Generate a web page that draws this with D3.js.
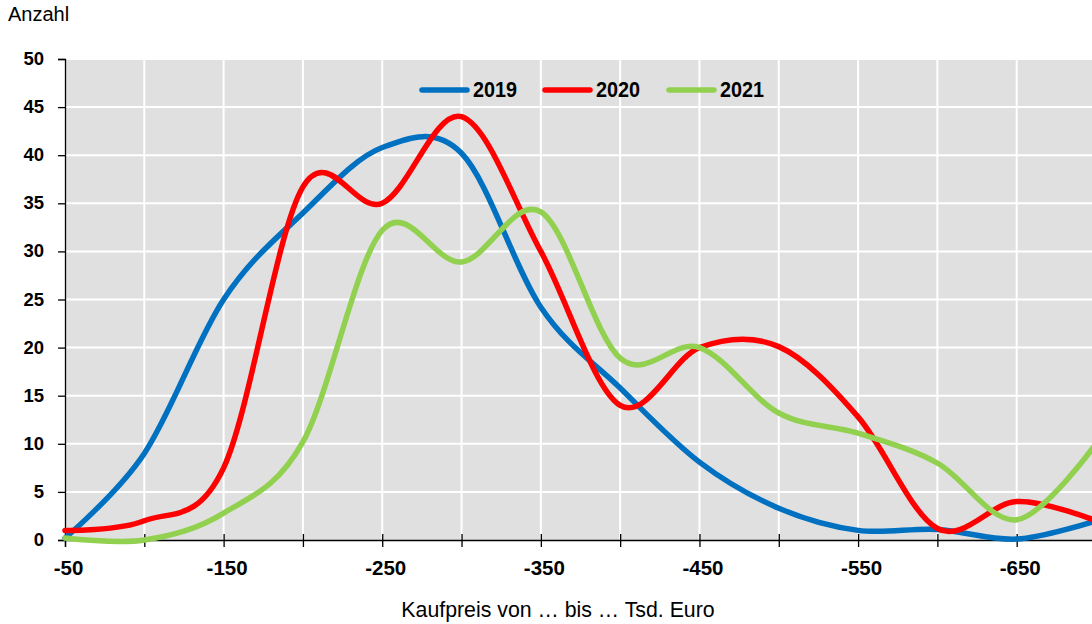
<!DOCTYPE html>
<html><head><meta charset="utf-8">
<script src="https://cdn.jsdelivr.net/npm/d3@7"></script>
<style>html,body{margin:0;padding:0;background:#fff;}svg{display:block;}</style>
</head><body>
<svg id="c" width="1092" height="624"></svg>
<script>
const categories = [-50,-100,-150,-200,-250,-300,-350,-400,-450,-500,-550,-600,-650,-700];
const s2019 = [0.2, 9, 25, 34, 40.8, 40.2, 24.2, 15.8, 8.1, 3.3, 1.0, 1.1, 0.1, 2];
const s2020 = [1, 2, 7.5, 36.7, 35, 44, 30, 14, 20, 20.1, 12.8, 1.2, 4, 2];
const s2021 = [0.2, 0, 2.8, 10.2, 32.2, 28.9, 34.1, 18.9, 20, 13.2, 11.1, 8, 2.1, 10];
const seriesNames = ["2019","2020","2021"];
const yTicks = [0,5,10,15,20,25,30,35,40,45,50];
const xTickLabels = [-50,-150,-250,-350,-450,-550,-650];
const xGrid = [-100,-150,-200,-250,-300,-350,-400,-450,-500,-550,-600,-650,-700];

const colors = ["#0070c0","#ff0000","#92d050"];
const seriesVals = [s2019, s2020, s2021];

const svg = d3.select("#c");
const L = 65, T = 59, B = 540, R = 1096;
const x = d3.scaleLinear().domain([-50,-700]).range([L,R]);
const y = d3.scaleLinear().domain([0,50]).range([B,T]);

svg.append("rect").attr("x",L).attr("y",T).attr("width",R-L).attr("height",B-T).attr("fill","#e0e0e0");

// grid
svg.append("g").selectAll("line").data(yTicks.filter(d=>d>0)).join("line")
  .attr("x1",L).attr("x2",R).attr("y1",d=>y(d)).attr("y2",d=>y(d))
  .attr("stroke","#fff").attr("stroke-width",2);
svg.append("g").selectAll("line").data(xGrid).join("line")
  .attr("x1",d=>x(d)).attr("x2",d=>x(d)).attr("y1",T).attr("y2",B)
  .attr("stroke","#fff").attr("stroke-width",2);

// axes
const font = "'Liberation Sans', Arial, sans-serif";
const yAxis = d3.axisLeft(y).tickValues(yTicks).tickSize(7).tickPadding(14);
const gy = svg.append("g").attr("transform",`translate(${L},0)`).call(yAxis);
gy.select(".domain").attr("stroke","#000").attr("stroke-width",1.3);
gy.selectAll(".tick line").attr("stroke","#000").attr("stroke-width",1.3);
gy.selectAll(".tick text").attr("font-family",font).attr("font-size",18.5).attr("font-weight","bold").attr("fill","#000").attr("dy","0.3em");

const xAxis = d3.axisBottom(x).tickValues(d3.range(-50,-701,-50)).tickSize(7)
  .tickFormat(d=> xTickLabels.includes(d) ? String(d) : "").tickPadding(14);
const gx = svg.append("g").attr("transform",`translate(0,${B})`).call(xAxis);
gx.select(".domain").attr("stroke","#000").attr("stroke-width",1.3);
gx.selectAll(".tick line").attr("stroke","#000").attr("stroke-width",1.3).attr("y1",-6);
gx.selectAll(".tick text").attr("font-family",font).attr("font-size",20.5).attr("font-weight","bold").attr("fill","#000")
  .attr("dx",3).attr("dy","0.68em");

// lines
const line = d3.line().x((d,i)=>x(categories[i])).y(d=>y(d)).curve(d3.curveCardinal.tension(0));
seriesVals.forEach((vals,k)=>{
  svg.append("path").datum(vals).attr("d",line).attr("fill","none")
    .attr("stroke",colors[k]).attr("stroke-width",5.5).attr("stroke-linejoin","round").attr("stroke-linecap","round");
});

// legend
const legX = [420,543,667];
seriesNames.forEach((n,k)=>{
  svg.append("line").attr("x1",legX[k]+2).attr("x2",legX[k]+47).attr("y1",90).attr("y2",90)
    .attr("stroke",colors[k]).attr("stroke-width",5.5).attr("stroke-linecap","round");
  svg.append("text").attr("x",legX[k]+53).attr("y",97).text(n)
    .attr("font-family",font).attr("font-size",21.5).attr("font-weight","bold").attr("fill","#000")
    .attr("textLength",44).attr("lengthAdjust","spacingAndGlyphs");
});

// titles
svg.append("text").attr("x",8).attr("y",21).text("Anzahl")
  .attr("font-family",font).attr("font-size",20).attr("fill","#000");
svg.append("text").attr("x",558).attr("y",617).attr("text-anchor","middle").text("Kaufpreis von … bis … Tsd. Euro")
  .attr("font-family",font).attr("font-size",21.3).attr("fill","#000");
</script>
</body></html>
